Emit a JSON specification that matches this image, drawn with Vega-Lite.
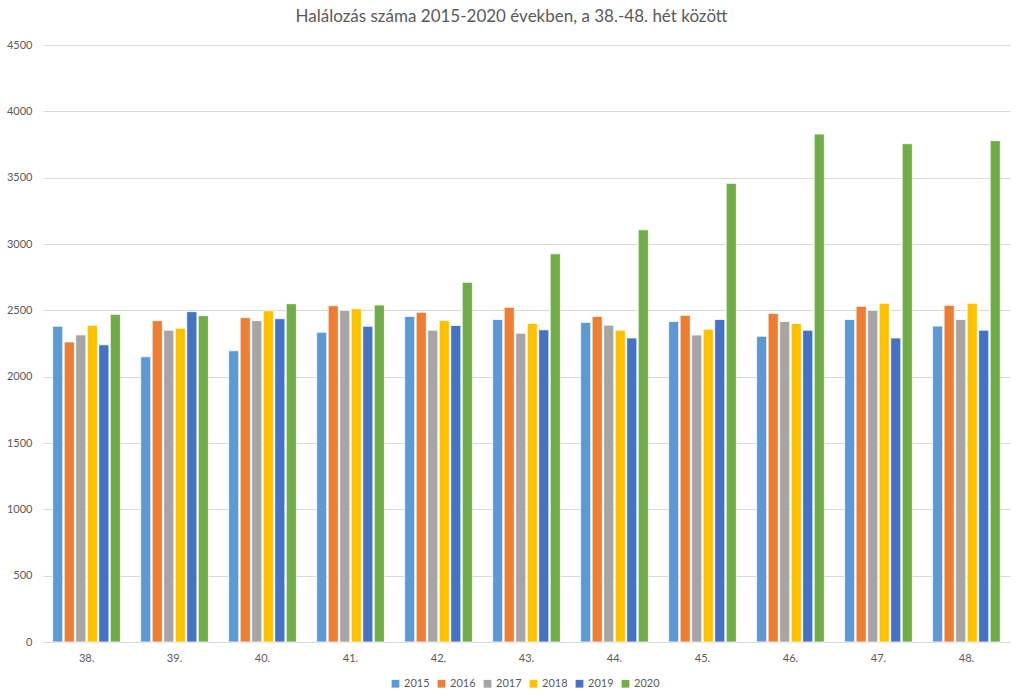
{
  "$schema": "https://vega.github.io/schema/vega-lite/v6.json",
  "width": 967,
  "height": 597,
  "autosize": "none",
  "padding": {"left": 43, "top": 45, "right": 14, "bottom": 57},
  "background": "white",
  "title": {
    "text": "Halálozás száma 2015-2020 években, a 38.-48. hét között",
    "font": "Lato",
    "fontSize": 17,
    "fontWeight": "normal",
    "color": "#595959",
    "anchor": "middle",
    "dx": -15,
    "offset": 13
  },
  "config": {
    "view": {"stroke": null},
    "font": "Lato"
  },
  "data": {
    "values": [
      {"het": "38.", "ev": "2015", "halalozas": 2380},
      {"het": "38.", "ev": "2016", "halalozas": 2262},
      {"het": "38.", "ev": "2017", "halalozas": 2315},
      {"het": "38.", "ev": "2018", "halalozas": 2387},
      {"het": "38.", "ev": "2019", "halalozas": 2240},
      {"het": "38.", "ev": "2020", "halalozas": 2470},
      {"het": "39.", "ev": "2015", "halalozas": 2150},
      {"het": "39.", "ev": "2016", "halalozas": 2422},
      {"het": "39.", "ev": "2017", "halalozas": 2350},
      {"het": "39.", "ev": "2018", "halalozas": 2365},
      {"het": "39.", "ev": "2019", "halalozas": 2490},
      {"het": "39.", "ev": "2020", "halalozas": 2460},
      {"het": "40.", "ev": "2015", "halalozas": 2195},
      {"het": "40.", "ev": "2016", "halalozas": 2445},
      {"het": "40.", "ev": "2017", "halalozas": 2422},
      {"het": "40.", "ev": "2018", "halalozas": 2497},
      {"het": "40.", "ev": "2019", "halalozas": 2437},
      {"het": "40.", "ev": "2020", "halalozas": 2550},
      {"het": "41.", "ev": "2015", "halalozas": 2335},
      {"het": "41.", "ev": "2016", "halalozas": 2535},
      {"het": "41.", "ev": "2017", "halalozas": 2500},
      {"het": "41.", "ev": "2018", "halalozas": 2512},
      {"het": "41.", "ev": "2019", "halalozas": 2380},
      {"het": "41.", "ev": "2020", "halalozas": 2540},
      {"het": "42.", "ev": "2015", "halalozas": 2454},
      {"het": "42.", "ev": "2016", "halalozas": 2485},
      {"het": "42.", "ev": "2017", "halalozas": 2350},
      {"het": "42.", "ev": "2018", "halalozas": 2424},
      {"het": "42.", "ev": "2019", "halalozas": 2386},
      {"het": "42.", "ev": "2020", "halalozas": 2711},
      {"het": "43.", "ev": "2015", "halalozas": 2431},
      {"het": "43.", "ev": "2016", "halalozas": 2523},
      {"het": "43.", "ev": "2017", "halalozas": 2327},
      {"het": "43.", "ev": "2018", "halalozas": 2401},
      {"het": "43.", "ev": "2019", "halalozas": 2353},
      {"het": "43.", "ev": "2020", "halalozas": 2926},
      {"het": "44.", "ev": "2015", "halalozas": 2409},
      {"het": "44.", "ev": "2016", "halalozas": 2454},
      {"het": "44.", "ev": "2017", "halalozas": 2388},
      {"het": "44.", "ev": "2018", "halalozas": 2350},
      {"het": "44.", "ev": "2019", "halalozas": 2292},
      {"het": "44.", "ev": "2020", "halalozas": 3107},
      {"het": "45.", "ev": "2015", "halalozas": 2416},
      {"het": "45.", "ev": "2016", "halalozas": 2462},
      {"het": "45.", "ev": "2017", "halalozas": 2314},
      {"het": "45.", "ev": "2018", "halalozas": 2358},
      {"het": "45.", "ev": "2019", "halalozas": 2431},
      {"het": "45.", "ev": "2020", "halalozas": 3457},
      {"het": "46.", "ev": "2015", "halalozas": 2305},
      {"het": "46.", "ev": "2016", "halalozas": 2477},
      {"het": "46.", "ev": "2017", "halalozas": 2416},
      {"het": "46.", "ev": "2018", "halalozas": 2401},
      {"het": "46.", "ev": "2019", "halalozas": 2350},
      {"het": "46.", "ev": "2020", "halalozas": 3829},
      {"het": "47.", "ev": "2015", "halalozas": 2431},
      {"het": "47.", "ev": "2016", "halalozas": 2530},
      {"het": "47.", "ev": "2017", "halalozas": 2500},
      {"het": "47.", "ev": "2018", "halalozas": 2553},
      {"het": "47.", "ev": "2019", "halalozas": 2292},
      {"het": "47.", "ev": "2020", "halalozas": 3756},
      {"het": "48.", "ev": "2015", "halalozas": 2381},
      {"het": "48.", "ev": "2016", "halalozas": 2538},
      {"het": "48.", "ev": "2017", "halalozas": 2431},
      {"het": "48.", "ev": "2018", "halalozas": 2553},
      {"het": "48.", "ev": "2019", "halalozas": 2350},
      {"het": "48.", "ev": "2020", "halalozas": 3779}
    ]
  },
  "mark": {"type": "bar", "stroke": "white", "strokeWidth": 0.8},
  "encoding": {
    "x": {
      "field": "het",
      "type": "nominal",
      "sort": null,
      "title": null,
      "scale": {"paddingInner": 0.23, "paddingOuter": 0.11},
      "axis": {
        "labelAngle": 0,
        "labelColor": "#595959",
        "labelFontSize": 11,
        "labelPadding": 10,
        "ticks": false,
        "domainColor": "#d9d9d9",
        "domainWidth": 1
      }
    },
    "xOffset": {
      "field": "ev",
      "type": "nominal",
      "scale": {"paddingInner": 0.12}
    },
    "y": {
      "field": "halalozas",
      "type": "quantitative",
      "title": null,
      "scale": {"domain": [0, 4500], "nice": false},
      "axis": {
        "values": [0, 500, 1000, 1500, 2000, 2500, 3000, 3500, 4000, 4500],
        "format": "d",
        "labelColor": "#595959",
        "labelFontSize": 11,
        "labelPadding": 11,
        "ticks": false,
        "domain": false,
        "gridColor": "#d9d9d9",
        "gridWidth": 1
      }
    },
    "color": {
      "field": "ev",
      "type": "nominal",
      "title": null,
      "scale": {
        "domain": ["2015", "2016", "2017", "2018", "2019", "2020"],
        "range": ["#5B9BD5", "#ED7D31", "#A5A5A5", "#FFC000", "#4472C4", "#70AD47"]
      },
      "legend": {
        "orient": "none",
        "direction": "horizontal",
        "legendX": 347,
        "legendY": 633,
        "symbolType": "square",
        "symbolSize": 60,
        "symbolStrokeWidth": 0,
        "labelColor": "#595959",
        "labelFontSize": 11,
        "columnPadding": 6,
        "labelOffset": 3
      }
    }
  }
}
